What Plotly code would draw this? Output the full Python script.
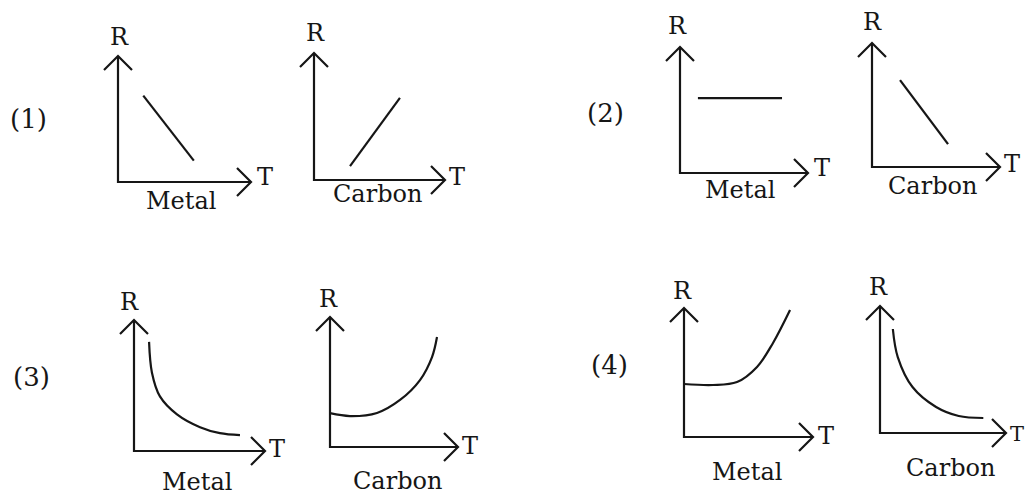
import plotly.graph_objects as go

W, H = 1026, 497

# Step 1: curve values (T along the x axis, R up the y axis, both 0..10 to the arrow tips)
options = ['(1)', '(2)', '(3)', '(4)']
materials = ['Metal', 'Carbon', 'Metal', 'Carbon', 'Metal', 'Carbon', 'Metal', 'Carbon']

metal1_T = [1.9, 5.7]
metal1_R = [6.85, 1.7]
carbon1_T = [2.75, 6.56]
carbon1_R = [1.1, 6.46]

metal2_T = [1.4, 7.97]
metal2_R = [5.95, 5.95]
carbon2_T = [2.19, 5.94]
carbon2_R = [7.0, 1.85]

metal3_T = [1.15, 1.37, 1.98, 3.28, 5.04, 6.56, 8.09]
metal3_R = [8.33, 5.98, 4.17, 2.8, 1.82, 1.36, 1.21]
carbon3_T = [0.0, 1.56, 3.67, 5.47, 7.03, 7.97, 8.36]
carbon3_R = [2.6, 2.38, 2.62, 3.62, 5.15, 6.92, 8.46]

metal4_T = [0.0, 2.25, 4.11, 5.66, 6.9, 8.22]
metal4_R = [4.11, 4.03, 4.26, 5.43, 7.29, 9.84]
carbon4_T = [1.02, 1.41, 2.58, 4.45, 6.25, 8.2]
carbon4_R = [8.19, 5.98, 3.62, 2.05, 1.34, 1.18]

curves = [(metal1_T, metal1_R), (carbon1_T, carbon1_R),
          (metal2_T, metal2_R), (carbon2_T, carbon2_R),
          (metal3_T, metal3_R), (carbon3_T, carbon3_R),
          (metal4_T, metal4_R), (carbon4_T, carbon4_R)]

# Step 2: where each little graph sits on the page (origin x, origin y, T tip x, R tip y) in px
frames = [(118, 182, 251, 56), (314, 180, 445, 53),
          (680, 173, 808, 47), (872, 167, 1000, 43),
          (134, 451, 265, 320), (330, 447, 458, 317),
          (684, 437, 813, 308), (880, 433, 1006, 306)]
r_pos = [(119, 37), (315, 33), (677, 26), (872, 22),
         (129, 302), (328, 299), (682, 291), (878, 287)]
t_pos = [(265, 177), (457, 177), (822, 168), (1012, 164),
         (277, 449), (470, 446), (826, 436), (1017, 434)]
t_size = [24, 24, 24, 24, 24, 24, 24, 21]
name_pos = [(181, 201), (377, 194), (740, 190), (932, 186),
            (197, 482), (397, 481), (747, 472), (950, 468)]
option_pos = [(28, 119), (605, 113), (31, 377), (609, 365)]

ink = '#161616'
serif = 'DejaVu Serif'
pad = 18

fig = go.Figure()
annotations = []


def label(txt, pos, size):
    px, py = pos
    return dict(text=txt, x=px / W, y=1 - py / H, xref='paper', yref='paper',
                xanchor='center', yanchor='middle', showarrow=False,
                font=dict(family=serif, size=size, color=ink))


for i, ((ox, oy, tx, ty), (T, R)) in enumerate(zip(frames, curves)):
    n = '' if i == 0 else str(i + 1)
    sx = (tx - ox) / 10.0
    sy = (oy - ty) / 10.0
    fig.update_layout({
        'xaxis' + n: dict(domain=[(ox - pad) / W, (tx + pad) / W],
                          range=[-pad / sx, 10 + pad / sx], visible=False,
                          anchor='y' + n, fixedrange=True),
        'yaxis' + n: dict(domain=[1 - (oy + pad) / H, 1 - (ty - pad) / H],
                          range=[-pad / sy, 10 + pad / sy], visible=False,
                          anchor='x' + n, fixedrange=True),
    })

    # axes with open arrow heads
    ax = 14 / sx
    ay = 14 / sy
    axis_x = [0, 0, 10, None, 10 - ax, 10, 10 - ax, None, -ax, 0, ax]
    axis_y = [10, 0, 0, None, ay, 0, -ay, None, 10 - ay, 10, 10 - ay]
    fig.add_trace(go.Scatter(x=axis_x, y=axis_y, mode='lines',
                             line=dict(color=ink, width=2.2),
                             xaxis='x' + n, yaxis='y' + n,
                             hoverinfo='skip', showlegend=False))

    fig.add_trace(go.Scatter(x=T, y=R, mode='lines',
                             line=dict(color=ink, width=2.2, shape='spline'),
                             xaxis='x' + n, yaxis='y' + n,
                             name=materials[i], showlegend=False))

    annotations.append(label('R', r_pos[i], 24))
    annotations.append(label('T', t_pos[i], t_size[i]))
    annotations.append(label(materials[i], name_pos[i], 24))

for txt, pos in zip(options, option_pos):
    annotations.append(label(txt, pos, 26))

fig.update_layout(width=W, height=H, margin=dict(l=0, r=0, t=0, b=0),
                  paper_bgcolor='white', plot_bgcolor='white',
                  annotations=annotations, showlegend=False)

# page margin would push the figure 8px in, so drop it
fig.write_html('out.html', config={'displayModeBar': False},
               post_script="document.body.style.margin='0';")
